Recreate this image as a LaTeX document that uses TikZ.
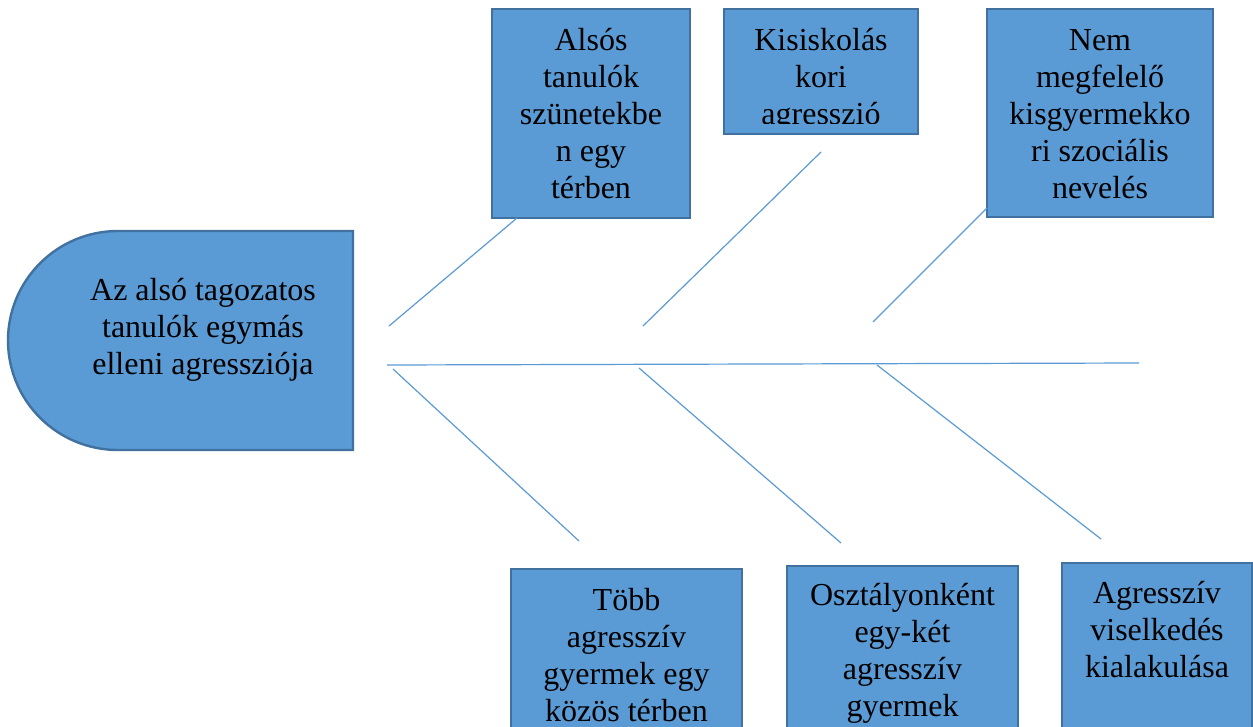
\documentclass[tikz,border=0pt]{standalone}
\usepackage{fontspec}
\setmainfont{Liberation Serif}
\definecolor{boxfill}{RGB}{91,155,213}
\definecolor{boxline}{RGB}{65,113,158}
\definecolor{bone}{RGB}{91,155,213}
\begin{document}
\begin{tikzpicture}[x=1pt,y=-1pt,
  boxstyle/.style={draw=boxline,fill=boxfill,line width=2.4pt},
  txt/.style={anchor=north,inner sep=0pt,align=center,font=\fontsize{32}{37}\selectfont},
  bonestyle/.style={draw=bone,line width=1.2pt}]
\clip (0,0) rectangle (1253,726);
\fill[white] (0,0) rectangle (1253,726);
% head
\path[boxstyle] (353,231) -- (118,231) arc[start angle=270,end angle=90,x radius=110,y radius=109.5] -- (353,450) -- cycle;
\node[txt] (head) at (203,274.1) {\strut Az alsó tagozatos\\tanulók egymás\\elleni agressziója};
% top boxes
\path[boxstyle] (492,9) rectangle (690,218);
\node[txt] (t1) at (591,24.1) {\strut Alsós\\tanulók\\szünetekbe\\n egy\\térben};
\path[boxstyle] (724,9) rectangle (918,134);
\begin{scope}
\clip (725,10) rectangle (917,123.5);
\node[txt] (t2) at (821,24.1) {\strut Kisiskolás\\kori\\agresszió};
\end{scope}
\path[boxstyle] (987,9) rectangle (1213,217);
\node[txt] (t3) at (1100,24.1) {\strut Nem\\megfelelő\\kisgyermekko\\ri szociális\\nevelés};
% bottom boxes
\path[boxstyle] (511,569) rectangle (742,760);
\node[txt] (b1) at (626.5,584.1) {\strut Több\\agresszív\\gyermek egy\\közös térben};
\path[boxstyle] (787,566) rectangle (1018,760);
\node[txt] (b2) at (902.5,579.1) {\strut Osztályonként\\egy-két\\agresszív\\gyermek};
\path[boxstyle] (1062,563) rectangle (1252,760);
\node[txt] (b3) at (1157,577.1) {\strut Agresszív\\viselkedés\\kialakulása};
% bone coordinates
\coordinate (s0) at (387,365);
\coordinate (s1) at (1139,363);
\coordinate (u1a) at (517,218);
\coordinate (u1b) at (389,326);
\coordinate (u2a) at (821,152);
\coordinate (u2b) at (643,326);
\coordinate (u3a) at (987,208);
\coordinate (u3b) at (873,322);
\coordinate (l1a) at (393,369);
\coordinate (l1b) at (579,541);
\coordinate (l2a) at (639,368);
\coordinate (l2b) at (841,543);
\coordinate (l3a) at (877,365);
\coordinate (l3b) at (1101,539);
\draw[bonestyle] (s0) -- (s1);
\draw[bonestyle] (u1a) -- (u1b);
\draw[bonestyle] (u2a) -- (u2b);
\draw[bonestyle] (u3a) -- (u3b);
\draw[bonestyle] (l1a) -- (l1b);
\draw[bonestyle] (l2a) -- (l2b);
\draw[bonestyle] (l3a) -- (l3b);
\end{tikzpicture}
\end{document}
